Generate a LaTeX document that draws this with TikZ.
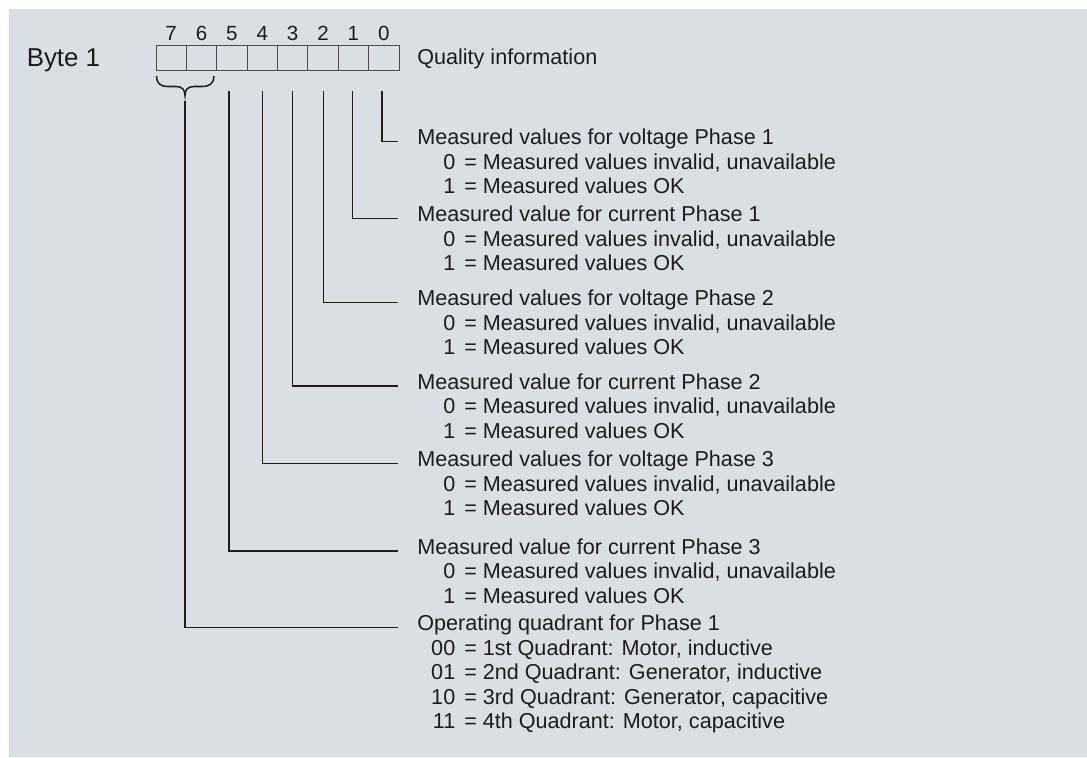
\documentclass[tikz,border=0pt]{standalone}
\usepackage{fontspec}
\setmainfont{Liberation Sans}
\definecolor{bgc}{RGB}{218,223,227}
\definecolor{txtc}{RGB}{28,28,28}
\definecolor{linec}{RGB}{30,30,30}
\definecolor{boxc}{RGB}{75,75,75}
\begin{document}
\begin{tikzpicture}[x=0.75pt,y=-0.75pt,
  txt/.style={inner sep=0pt, text height=0.72em, text depth=0.21em,
    font=\fontsize{16.2pt}{17.6pt}\selectfont, text=txtc},
  hd/.style={txt, anchor=west},
  rowtxt/.style={txt, anchor=west},
  cell/.style={draw=boxc, line width=0.7pt, minimum width=22.78pt,
    minimum height=18.75pt, inner sep=0pt},
  bitnum/.style={inner sep=0pt, anchor=base, text=txtc,
    font=\fontsize{15.4pt}{17pt}\selectfont},
  conn/.style={draw=linec, line width=1.15pt},
]
\fill[bgc] (9,9) rectangle (1087,757);
\useasboundingbox (0,0) rectangle (1087,757);

\node[anchor=base west, inner sep=0pt, text=txtc,
  font=\fontsize{19.4pt}{21pt}\selectfont] (byte) at (26.5,66) {Byte 1};

\foreach \j in {0,...,7}{
  \pgfmathtruncatemacro\b{7-\j}
  \node[cell] (c\b) at ({171.19+\j*30.375},58.2) {};
  \node[bitnum] (n\b) at ({171.19+\j*30.375},40.5) {\b};
}

\node[hd] (qi) at (417,61.5) {Quality information};

% headings
\node[hd] (h0) at (417,141.5) {Measured values for voltage Phase 1};
\node[hd] (h1) at (417,218.5) {Measured value for current Phase 1};
\node[hd] (h2) at (417,302.5) {Measured values for voltage Phase 2};
\node[hd] (h3) at (417,386)   {Measured value for current Phase 2};
\node[hd] (h4) at (417,463.5) {Measured values for voltage Phase 3};
\node[hd] (h5) at (417,551)   {Measured value for current Phase 3};
\node[hd] (h6) at (417,627.5) {Operating quadrant for Phase 1};

% value rows
\foreach \k/\y in {0/141.5,1/218.5,2/302.5,3/386,4/463.5,5/551}{
  \node[rowtxt] (r\k a) at (431,\y+24.5) {\makebox[18pt][r]{0}\hspace{6.75pt}= Measured values invalid, unavailable};
  \node[rowtxt] (r\k b) at (431,\y+49) {\makebox[18pt][r]{1}\hspace{6.75pt}= Measured values OK};
}
\node[rowtxt] (q0) at (431,652) {\makebox[18pt][r]{00}\hspace{6.75pt}= 1st Quadrant: Motor, inductive};
\node[rowtxt] (q1) at (431,676.5) {\makebox[18pt][r]{01}\hspace{6.75pt}= 2nd Quadrant: Generator, inductive};
\node[rowtxt] (q2) at (431,701) {\makebox[18pt][r]{10}\hspace{6.75pt}= 3rd Quadrant: Generator, capacitive};
\node[rowtxt] (q3) at (431,725.5) {\makebox[18pt][r]{11}\hspace{6.75pt}= 4th Quadrant: Motor, capacitive};

% brace under bits 7 and 6
\draw[conn] (156.5,76) .. controls (156.5,83) and (160,86.5) .. (168,86.5)
  -- (176,86.5) .. controls (182.5,86.5) and (185,90) .. (185,95.5)
  .. controls (185,90) and (187.5,86.5) .. (194,86.5)
  -- (202,86.5) .. controls (210,86.5) and (214,83) .. (214,76);

% connector start points
\coordinate (b0) at (382,91);
\coordinate (b1) at (352.7,91);
\coordinate (b2) at (323.5,91);
\coordinate (b3) at (292.3,91);
\coordinate (b4) at (262.3,91);
\coordinate (b5) at (229,91);
\coordinate (b76) at (185,101);

\foreach \s/\t in {b0/h0,b1/h1,b2/h2,b3/h3,b4/h4,b5/h5,b76/h6}{
  \draw[conn] (\s) |- ([xshift=-14.25pt]\t.west);
}
\end{tikzpicture}
\end{document}
